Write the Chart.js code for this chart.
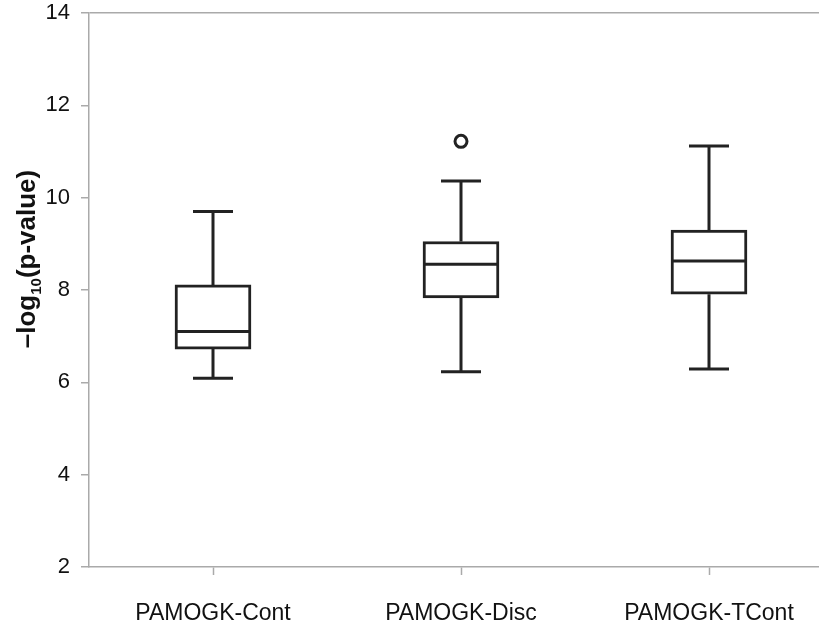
<!DOCTYPE html>
<html>
<head>
<meta charset="utf-8">
<script src="https://cdn.jsdelivr.net/npm/chart.js@4.4.1/dist/chart.umd.min.js"></script>
<style>
  html, body { margin: 0; padding: 0; background: #fff; overflow: hidden; }
  #wrap { width: 819px; height: 626px; overflow: hidden; }
  canvas { display: block; }
</style>
</head>
<body>
<div id="wrap"><canvas id="box_chart" width="833" height="626"></canvas></div>
<script>
// box plot values
const categories = ["PAMOGK-Cont", "PAMOGK-Disc", "PAMOGK-TCont"];
const whiskerLow = [6.09, 6.23, 6.29];
const q1 = [6.72, 7.83, 7.91];
const median = [7.10, 8.56, 8.63];
const q3 = [8.11, 9.05, 9.30];
const whiskerHigh = [9.70, 10.36, 11.12];
const outliers = [null, 11.22, null];
const yMin = 2, yMax = 14, yStep = 2;

const lineColor = "#222";
const axisColor = "#aaa";

Chart.defaults.font.family = "'Liberation Sans', Arial, sans-serif";
Chart.defaults.color = "#111";

const boxes = [];
for (let i = 0; i < categories.length; i++) {
    boxes.push([q1[i], q3[i]]);
}

// whiskers under the boxes, medians on top
const boxParts = {
    id: "boxParts",
    beforeDatasetsDraw(chart) {
        const ctx = chart.ctx;
        const y = chart.scales.y;
        const bars = chart.getDatasetMeta(0).data;
        ctx.save();
        ctx.strokeStyle = lineColor;
        ctx.lineWidth = 3;
        ctx.lineCap = "butt";
        for (let i = 0; i < bars.length; i++) {
            const x = bars[i].x;
            const lo = y.getPixelForValue(whiskerLow[i]);
            const hi = y.getPixelForValue(whiskerHigh[i]);
            ctx.beginPath();
            ctx.moveTo(x, lo);
            ctx.lineTo(x, y.getPixelForValue(q1[i]));
            ctx.moveTo(x, y.getPixelForValue(q3[i]));
            ctx.lineTo(x, hi);
            ctx.moveTo(x - 20, lo);
            ctx.lineTo(x + 20, lo);
            ctx.moveTo(x - 20, hi);
            ctx.lineTo(x + 20, hi);
            ctx.stroke();
        }
        ctx.restore();
    },
    afterDatasetsDraw(chart) {
        const ctx = chart.ctx;
        const y = chart.scales.y;
        const bars = chart.getDatasetMeta(0).data;
        ctx.save();
        ctx.strokeStyle = lineColor;
        ctx.lineWidth = 3;
        for (let i = 0; i < bars.length; i++) {
            const half = bars[i].width / 2;
            const my = y.getPixelForValue(median[i]);
            ctx.beginPath();
            ctx.moveTo(bars[i].x - half, my);
            ctx.lineTo(bars[i].x + half, my);
            ctx.stroke();
        }
        ctx.restore();
    }
};

// y title with subscript 10
const yTitle = {
    id: "yTitle",
    afterDraw(chart) {
        const ctx = chart.ctx;
        const size = 26;
        const parts = [["\u2013log", size, 0], ["10", 15, 6], ["(p-value)", size, 0]];
        ctx.save();
        let total = 0;
        for (const p of parts) {
            ctx.font = "bold " + p[1] + "px 'Liberation Sans', Arial, sans-serif";
            total += ctx.measureText(p[0]).width;
        }
        ctx.translate(35, 259);
        ctx.rotate(-Math.PI / 2);
        ctx.fillStyle = "#111";
        ctx.textBaseline = "alphabetic";
        let x = -total / 2;
        for (const p of parts) {
            ctx.font = "bold " + p[1] + "px 'Liberation Sans', Arial, sans-serif";
            ctx.fillText(p[0], x, p[2]);
            x += ctx.measureText(p[0]).width;
        }
        ctx.restore();
    }
};

new Chart(document.getElementById("box_chart").getContext("2d"), {
    type: "bar",
    data: {
        labels: categories,
        datasets: [{
            data: boxes,
            backgroundColor: "#fff",
            borderColor: lineColor,
            borderWidth: 3,
            borderSkipped: false,
            barThickness: 76
        }, {
            type: "line",
            data: outliers,
            showLine: false,
            pointRadius: 6,
            pointBorderWidth: 3,
            pointBackgroundColor: "#fff",
            pointBorderColor: lineColor
        }]
    },
    options: {
        responsive: false,
        animation: false,
        layout: { autoPadding: false, padding: { top: 13, left: 0, right: 0, bottom: 0 } },
        plugins: { legend: { display: false }, tooltip: { enabled: false } },
        scales: {
            x: {
                grid: { drawOnChartArea: false, offset: false, tickLength: 8, tickColor: axisColor, tickWidth: 1.5 },
                border: { color: axisColor, width: 1.5 },
                ticks: { font: { size: 23 }, padding: 25, color: "#111" },
                afterFit(scale) {
                    scale.height = 59;
                    scale.paddingLeft = 0;
                    scale.paddingRight = 0;
                }
            },
            y: {
                min: yMin,
                max: yMax,
                grid: {
                    color: function(c) { return c.tick && c.tick.value === yMax ? axisColor : "rgba(0,0,0,0)"; },
                    lineWidth: 1.5,
                    tickLength: 8,
                    tickColor: axisColor,
                    tickWidth: 1.5
                },
                border: { color: axisColor, width: 1.5 },
                ticks: { stepSize: yStep, font: { size: 22 }, padding: 11, color: "#111" },
                afterFit(scale) {
                    scale.width = 89;
                    scale.paddingTop = 0;
                    scale.paddingBottom = 0;
                }
            }
        }
    },
    plugins: [boxParts, yTitle]
});
</script>
</body>
</html>
